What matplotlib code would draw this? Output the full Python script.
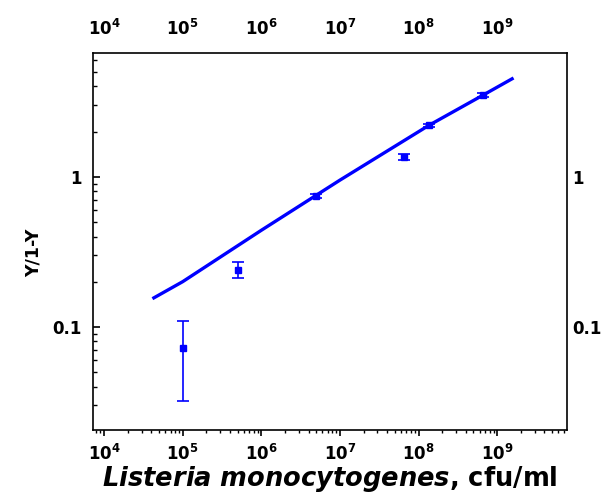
import numpy as np
import matplotlib
matplotlib.use("Agg")
import matplotlib.pyplot as plt
from matplotlib.ticker import FixedLocator, LogLocator, NullFormatter, NullLocator

# measured points (cfu/ml vs Y/1-Y)
conc = [1e5, 5e5, 5e6, 6.5e7, 1.35e8, 6.6e8]
ratio = [0.072, 0.24, 0.74, 1.36, 2.2, 3.5]
ratio_low = [0.032, 0.212, 0.72, 1.30, 2.15, 3.42]
ratio_high = [0.11, 0.271, 0.77, 1.42, 2.26, 3.6]

# fitted curve
fit_x = [4.3e4, 1e5, 1e6, 1e7, 1.35e8, 6.6e8, 1.55e9]
fit_y = [0.156, 0.20, 0.44, 0.95, 2.2, 3.5, 4.5]

xticks = [1e4, 1e5, 1e6, 1e7, 1e8, 1e9]
xticklabels = [r'$\mathbf{10^{%d}}$' % p for p in range(4, 10)]
yticks = [0.1, 1]
yticklabels = ['0.1', '1']

blue = '#0000ff'
xlim = (7.2e3, 7.7e9)
ylim = (0.0206, 6.7)

fig = plt.figure(figsize=(6.03, 4.94), dpi=100)
ax = fig.add_axes([0.154, 0.130, 0.786, 0.763])

ax.plot(fit_x, fit_y, color=blue, lw=2.4, zorder=2)
yerr = [np.array(ratio) - np.array(ratio_low), np.array(ratio_high) - np.array(ratio)]
ax.errorbar(conc, ratio, yerr=yerr, fmt='s', color=blue, ms=5, elinewidth=1.2,
            capsize=4, capthick=1.2, zorder=3)

ax.set_xscale('log')
ax.set_yscale('log')
ax.set_xlim(*xlim)
ax.set_ylim(*ylim)

ax.xaxis.set_major_locator(FixedLocator(xticks))
ax.set_xticklabels(xticklabels)
ax.xaxis.set_minor_locator(LogLocator(base=10, subs=np.arange(2, 10)))
ax.xaxis.set_minor_formatter(NullFormatter())
ax.yaxis.set_major_locator(FixedLocator(yticks))
ax.set_yticklabels(yticklabels)
ax.yaxis.set_minor_locator(LogLocator(base=10, subs=np.arange(2, 10)))
ax.yaxis.set_minor_formatter(NullFormatter())

for s in ax.spines.values():
    s.set_linewidth(1.2)

ax.tick_params(axis='x', which='both', direction='out', top=False, labeltop=True,
               labelsize=12, pad=6)
ax.tick_params(axis='x', which='major', length=4, width=1.2)
ax.tick_params(axis='x', which='minor', length=2.5, width=1)
ax.tick_params(axis='y', which='both', direction='in', right=False,
               labelsize=12, pad=8)
ax.tick_params(axis='y', which='major', length=5, width=1.2)
ax.tick_params(axis='y', which='minor', length=3, width=1)
for lab in ax.get_yticklabels():
    lab.set_fontweight('bold')

# right-hand labels without ticks
ax2 = ax.twinx()
ax2.set_yscale('log')
ax2.set_ylim(*ylim)
ax2.yaxis.set_major_locator(FixedLocator(yticks))
ax2.set_yticklabels(yticklabels)
ax2.yaxis.set_minor_locator(NullLocator())
ax2.tick_params(axis='y', length=0, labelsize=12, pad=4)
for lab in ax2.get_yticklabels():
    lab.set_fontweight('bold')
for s in ax2.spines.values():
    s.set_visible(False)

ax.set_xlabel(r'$\mathbfit{Listeria\ monocytogenes}$, cfu/ml',
              fontsize=18.5, fontweight='bold', labelpad=0)
ax.set_ylabel('Y/1-Y', fontsize=12.5, fontweight='bold')
ax.yaxis.set_label_coords(-0.105, 0.47)

fig.savefig('out.png', dpi=100)
